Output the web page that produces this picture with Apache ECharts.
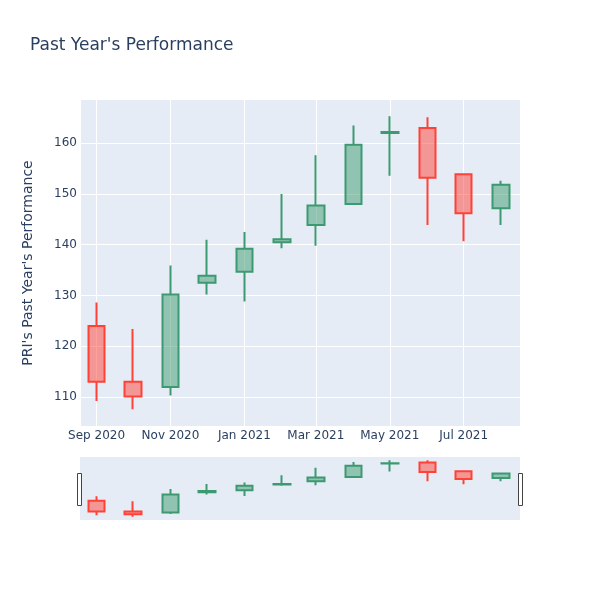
<!DOCTYPE html>
<html>
<head>
<meta charset="utf-8">
<script src="https://cdn.jsdelivr.net/npm/echarts@6/dist/echarts.min.js"></script>
<style>html,body{margin:0;padding:0;background:#fff}#c{width:600px;height:600px}</style>
</head>
<body>
<div id="c"></div>
<script>
// Monthly candles (first of month)
const dates = ['2020-09-01','2020-10-01','2020-11-01','2020-12-01','2021-01-01','2021-02-01',
               '2021-03-01','2021-04-01','2021-05-01','2021-06-01','2021-07-01','2021-08-01'];
const opens  = [124.0, 113.0, 112.0, 132.5, 134.7, 140.5, 143.9, 148.0, 162.0, 163.0, 153.9, 147.2];
const closes = [113.0, 110.1, 130.2, 133.9, 139.2, 141.1, 147.7, 159.7, 162.2, 153.2, 146.2, 151.8];
const lows   = [109.2, 107.6, 110.3, 130.2, 128.8, 139.3, 139.8, 147.9, 153.6, 143.9, 140.7, 143.9];
const highs  = [128.6, 123.4, 135.9, 141.0, 142.5, 150.0, 157.6, 163.5, 165.3, 165.1, 153.9, 152.6];
const yTicks = [110, 120, 130, 140, 150, 160];

const rows = dates.map((d, i) => [Date.parse(d + 'T00:00:00Z'), opens[i], closes[i], lows[i], highs[i]]);
const xMin = Date.parse('2020-08-18T08:00:00Z');
const xMax = Date.parse('2021-08-16T12:00:00Z');
const yMin = 104.3, yMax = 168.5;

const txt = '#2a3f5f';
const font = 'DejaVu Sans';
const up = '#3D9970', down = '#FF4136';
const candleStyle = {
  color: 'rgba(61,153,112,0.5)', color0: 'rgba(255,65,54,0.5)',
  borderColor: up, borderColor0: down, borderWidth: 2
};

const chart = echarts.init(document.getElementById('c'), null, {renderer: 'canvas'});
chart.setOption({
  useUTC: true,
  animation: false,
  backgroundColor: '#fff',
  title: {
    text: "Past Year's Performance", left: 30, top: 37.5, padding: 0,
    textStyle: {color: txt, fontSize: 17, fontWeight: 'normal', fontFamily: font}
  },
  grid: [
    {left: 80, right: 80, top: 100, height: 326, show: true, backgroundColor: '#E5ECF6', borderWidth: 0},
    {left: 80, right: 80, top: 457, height: 63, show: true, backgroundColor: '#E5ECF6', borderWidth: 0}
  ],
  xAxis: [
    {
      type: 'time', gridIndex: 0, min: xMin, max: xMax,
      axisLine: {show: false}, axisTick: {show: false},
      splitLine: {show: true, lineStyle: {color: '#fff', width: 1}},
      axisLabel: {color: txt, fontSize: 12, margin: 4, formatter: '{MMM} {yyyy}',
                  fontFamily: font, showMinLabel: false, showMaxLabel: false}
    },
    {
      type: 'time', gridIndex: 1, min: xMin, max: xMax,
      axisLine: {show: false}, axisTick: {show: false}, axisLabel: {show: false}, splitLine: {show: false}
    }
  ],
  yAxis: [
    {
      type: 'value', gridIndex: 0, min: yMin, max: yMax,
      axisLine: {show: false},
      axisTick: {show: false, customValues: yTicks},
      splitLine: {show: true, lineStyle: {color: '#fff', width: 1}},
      axisLabel: {color: txt, fontSize: 12, margin: 3, fontFamily: font, customValues: yTicks},
      name: "PRI's Past Year's Performance", nameLocation: 'middle', nameGap: 45,
      nameTextStyle: {color: txt, fontSize: 14, fontFamily: font}
    },
    {
      type: 'value', gridIndex: 1, min: yMin, max: yMax,
      axisLine: {show: false}, axisTick: {show: false}, axisLabel: {show: false}, splitLine: {show: false}
    }
  ],
  series: [
    {
      type: 'candlestick', xAxisIndex: 0, yAxisIndex: 0, data: rows,
      encode: {x: 0, y: [1, 2, 3, 4]}, barWidth: 17, itemStyle: candleStyle
    },
    {
      type: 'candlestick', xAxisIndex: 1, yAxisIndex: 1, data: rows,
      encode: {x: 0, y: [1, 2, 3, 4]}, barWidth: 17, itemStyle: candleStyle
    }
  ],
  graphic: [
    {type: 'rect', shape: {x: 77.5, y: 473.5, width: 4, height: 32},
     style: {fill: '#fff', stroke: '#444', lineWidth: 1}},
    {type: 'rect', shape: {x: 518.5, y: 473.5, width: 4, height: 32},
     style: {fill: '#fff', stroke: '#444', lineWidth: 1}}
  ]
});
</script>
</body>
</html>
